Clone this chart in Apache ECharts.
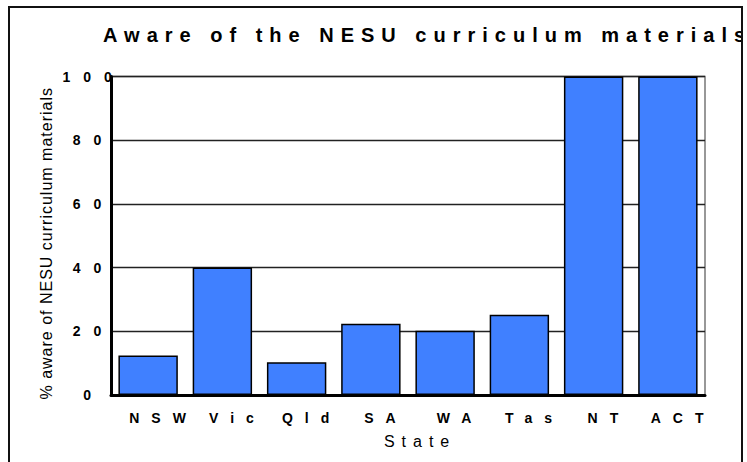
<!DOCTYPE html>
<html>
<head>
<meta charset="utf-8">
<script src="https://cdn.jsdelivr.net/npm/echarts@6/dist/echarts.min.js"></script>
<style>
  html, body { margin: 0; padding: 0; background: #fff; }
  #chart { width: 747px; height: 462px; }
</style>
</head>
<body>
<div id="chart"></div>
<script>
const titleText = 'Aware of the NESU curriculum materials';
const xName = 'State';
const yName = '% aware of NESU curriculum materials';
const states = ['NSW', 'Vic', 'Qld', 'SA', 'WA', 'Tas', 'NT', 'ACT'];
const awarePct = [12.4, 40, 10.3, 22.4, 20.2, 25.2, 100, 100];
const yTicks = [0, 20, 40, 60, 80, 100];

const font = 'Liberation Sans, Arial, sans-serif';
const chart = echarts.init(document.getElementById('chart'), null, { renderer: 'svg' });

chart.setOption({
  animation: false,
  backgroundColor: '#fff',
  title: {
    text: titleText,
    left: 98,
    top: 20,
    textStyle: { fontFamily: font, fontSize: 20, fontWeight: 'bold', color: '#000' }
  },
  grid: {
    left: 111, right: 42, top: 76.5, bottom: 67,
    show: true, borderColor: '#777', borderWidth: 1.5
  },
  xAxis: {
    type: 'category',
    data: states,
    name: xName,
    nameLocation: 'middle',
    nameGap: 38,
    nameMoveOverlap: false,
    nameTextStyle: { fontFamily: font, fontSize: 16, color: '#000' },
    axisLine: { lineStyle: { color: '#000', width: 3 } },
    axisTick: { show: false },
    axisLabel: { fontFamily: font, fontSize: 14, fontWeight: 'bold', color: '#000', margin: 16 }
  },
  yAxis: {
    type: 'value',
    min: yTicks[0],
    max: yTicks[yTicks.length - 1],
    interval: yTicks[1] - yTicks[0],
    name: yName,
    nameLocation: 'middle',
    nameGap: 57,
    nameMoveOverlap: false,
    nameTextStyle: { fontFamily: font, fontSize: 16, color: '#000' },
    axisLine: { show: true, lineStyle: { color: '#000', width: 3 } },
    axisTick: { show: false },
    axisLabel: { fontFamily: font, fontSize: 14, fontWeight: 'bold', color: '#000', align: 'center', margin: 24 },
    splitLine: { lineStyle: { color: '#222', width: 1.3 } }
  },
  series: [{
    type: 'bar',
    data: awarePct,
    barCategoryGap: '20%',
    itemStyle: { color: '#4080FF', borderColor: '#000', borderWidth: 1.5 }
  }],
  graphic: [
    { type: 'rect', z: 99, silent: true, shape: { x: 743, y: 0, width: 4, height: 462 }, style: { fill: '#fff' } },
    { type: 'rect', z: 100, silent: true, shape: { x: 9, y: 7, width: 733, height: 470 }, style: { fill: 'none', stroke: '#111', lineWidth: 2 } }
  ]
});

// wide letter spacing as in the original picture: [spacing, nudge, keep centre]
function spacingFor(t) {
  if (t === titleText) return [7, 0, false];
  if (t === xName) return [7, 8.5, true];
  if (t === yName) return [1, -8, true];
  if (states.includes(t)) return [12, 9, true];
  if (yTicks.map(String).includes(t)) return [13, 0, true];
  return null;
}
function applySpacing() {
  chart.getDom().querySelectorAll('text').forEach(el => {
    const sp = spacingFor(el.textContent.trim());
    if (!sp) return;
    el.removeAttribute('dx');
    el.style.letterSpacing = '0px';
    const b0 = el.getBBox();
    el.style.letterSpacing = sp[0] + 'px';
    const b1 = el.getBBox();
    let shift = b0.x - b1.x;
    if (sp[2]) {
      const glyphW = b1.width - sp[0];
      shift = (b0.x + b0.width / 2) - (b1.x + glyphW / 2);
    }
    el.setAttribute('dx', shift + sp[1]);
  });
}
applySpacing();
chart.on('rendered', applySpacing);
requestAnimationFrame(applySpacing);
setTimeout(applySpacing, 50);
</script>
</body>
</html>
